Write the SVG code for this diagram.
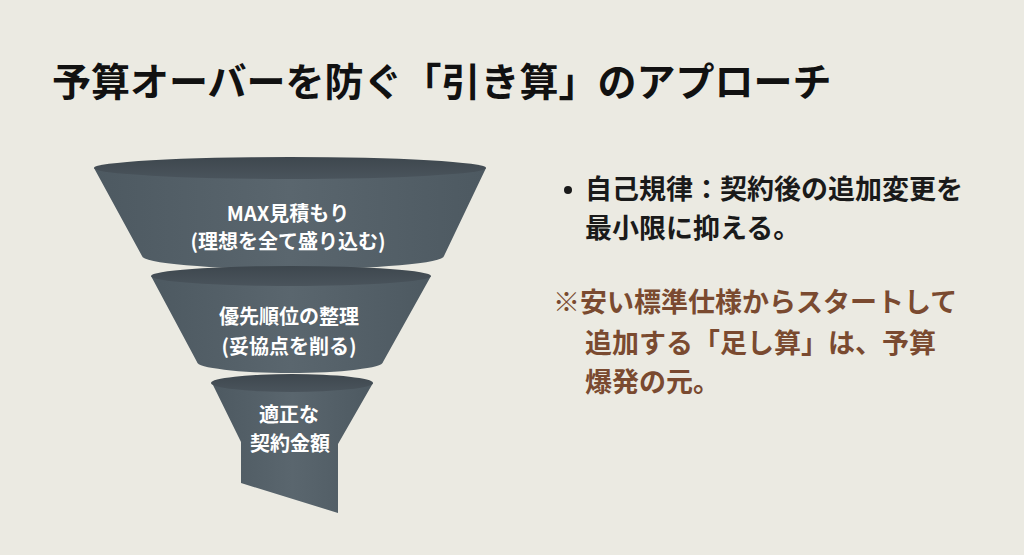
<svg xmlns="http://www.w3.org/2000/svg" width="1024" height="555" viewBox="0 0 1024 555">
<defs>
<linearGradient id="body" x1="0" y1="0" x2="1" y2="0">
<stop offset="0" stop-color="#4d5961"/>
<stop offset="0.5" stop-color="#5a666e"/>
<stop offset="1" stop-color="#4d5961"/>
</linearGradient>
<linearGradient id="rim" x1="0" y1="0" x2="0" y2="1">
<stop offset="0" stop-color="#3e474e"/>
<stop offset="1" stop-color="#4a545c"/>
</linearGradient>
<style>
.t{font-family:"Noto Sans CJK JP","Noto Sans",sans-serif;font-weight:700}
.w{fill:#ffffff;font-size:20px;text-anchor:middle}
.k{fill:#1a1a1a;font-size:27px}
.b{fill:#7a4a30;font-size:27px}
.body{fill:url(#body)}
.rim{fill:url(#rim)}
</style>
</defs>
<rect width="1024" height="555" fill="#ebeae2"/>
<text id="title" class="t" x="52" y="96" font-size="39" fill="#111">予算オーバーを防ぐ「引き算」のアプローチ</text>
<g id="funnel1">
<path class="body" d="M94,168 L142,256 A150,13 0 0 0 444,256 L486,168 Z"/>
<ellipse class="rim" cx="290" cy="168" rx="196" ry="11"/>
<text class="t w" x="288" y="221">MAX見積もり</text>
<text class="t w" x="288" y="249">(理想を全て盛り込む)</text>
</g>
<g id="funnel2">
<path class="body" d="M151,276 L197,362 A93,11 0 0 0 383,362 L431,276 Z"/>
<ellipse class="rim" cx="291" cy="276" rx="140" ry="10"/>
<text class="t w" x="289" y="324">優先順位の整理</text>
<text class="t w" x="289" y="354">(妥協点を削る)</text>
</g>
<g id="funnel3">
<path class="body" d="M212,383 L241,442 L241,483 L338,513 L338,444 L373,383 Z"/>
<ellipse class="rim" cx="292" cy="383" rx="81" ry="9"/>
<text class="t w" x="289" y="422">適正な</text>
<text class="t w" x="290" y="451">契約金額</text>
</g>
<g id="note1">
<circle cx="568" cy="190" r="4" fill="#1a1a1a"/>
<text class="t k" x="585" y="199">自己規律：契約後の追加変更を</text>
<text class="t k" x="585" y="238">最小限に抑える。</text>
</g>
<g id="note2">
<text class="t b" x="553" y="312">※安い標準仕様からスタートして</text>
<text class="t b" x="585" y="353">追加する「足し算」は、予算</text>
<text class="t b" x="585" y="392">爆発の元。</text>
</g>
</svg>
